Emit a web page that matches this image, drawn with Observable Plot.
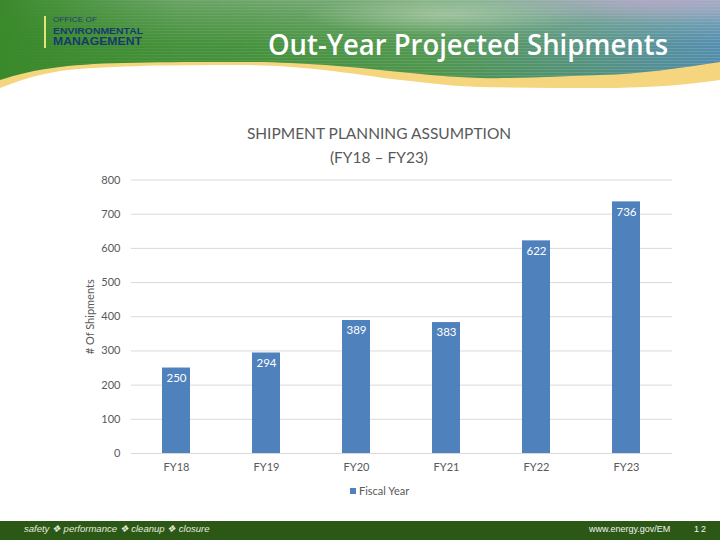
<!DOCTYPE html>
<html>
<head>
<meta charset="utf-8">
<script src="https://cdn.jsdelivr.net/npm/d3@7"></script>
<script src="https://cdn.jsdelivr.net/npm/@observablehq/plot@0.6"></script>
<style>
  html, body { margin: 0; padding: 0; background: #ffffff; }
  #page { position: relative; width: 720px; height: 540px; overflow: hidden; background: #ffffff; font-family: Lato, "Open Sans", sans-serif; }
  #header { position: absolute; left: 0; top: 0; }
  #ctitle { position: absolute; left: 0; width: 758px; top: 121px; text-align: center; color: #595959; font-size: 15.5px; line-height: 24px; }
  #chart { position: absolute; left: 0; top: 170px; }
  #legend { position: absolute; left: 350px; top: 484px; color: #595959; font-size: 11px; display: flex; align-items: center; }
  #legend .sw { width: 6px; height: 6px; background: #4f81bd; margin-right: 3px; }
  #footer { position: absolute; left: 0; top: 521px; width: 720px; height: 19px; background: #2c5816; }
  #footer .l { position: absolute; left: 24px; top: 2px; color: #e6eadf; font-size: 9.5px; font-style: italic; font-family: "Liberation Sans", Arial, sans-serif; }
  #footer .r { position: absolute; left: 589px; top: 3px; color: #f2f2f2; font-size: 9px; font-family: "Liberation Sans", Arial, sans-serif; }
  #footer .n { position: absolute; left: 694px; top: 3px; color: #f2f2f2; font-size: 9px; font-family: "Liberation Sans", Arial, sans-serif; letter-spacing: 2px; }
</style>
</head>
<body>
<div id="page">
  <svg id="header" width="720" height="100" viewBox="0 0 720 100">
    <defs>
      <linearGradient id="gbase" x1="0" y1="0" x2="1" y2="0">
        <stop offset="0" stop-color="#3a8a2b"/>
        <stop offset="0.35" stop-color="#3f8e35"/>
        <stop offset="0.6" stop-color="#4a9448"/>
        <stop offset="0.82" stop-color="#4f8f80"/>
        <stop offset="1" stop-color="#4a86b0"/>
      </linearGradient>
      <linearGradient id="gtopfade" x1="0" y1="0" x2="1" y2="0">
        <stop offset="0" stop-color="#ffffff" stop-opacity="0"/>
        <stop offset="0.25" stop-color="#ffffff" stop-opacity="0.6"/>
        <stop offset="1" stop-color="#ffffff" stop-opacity="1"/>
      </linearGradient>
      <linearGradient id="gtopv" x1="0" y1="0" x2="0" y2="1">
        <stop offset="0" stop-color="#c3d2cc" stop-opacity="0.55"/>
        <stop offset="0.45" stop-color="#a9c6b4" stop-opacity="0.12"/>
        <stop offset="1" stop-color="#2f7a22" stop-opacity="0.2"/>
      </linearGradient>
      <mask id="fadeMask">
        <rect width="720" height="100" fill="url(#gtopfade)"/>
      </mask>
      <radialGradient id="gpurple" cx="0.92" cy="0" r="0.25">
        <stop offset="0" stop-color="#b8a6c8" stop-opacity="0.8"/>
        <stop offset="1" stop-color="#b8a6c8" stop-opacity="0"/>
      </radialGradient>
      <radialGradient id="ghaze" cx="0.62" cy="0.15" r="0.2">
        <stop offset="0" stop-color="#d8e4d0" stop-opacity="0.45"/>
        <stop offset="1" stop-color="#d8e4d0" stop-opacity="0"/>
      </radialGradient>
      <pattern id="lines" width="8" height="3" patternUnits="userSpaceOnUse">
        <rect width="8" height="1" fill="#ffffff" fill-opacity="0.13"/>
      </pattern>
      <clipPath id="gclip">
        <path d="M0,0 H720 V62 C680,68 640,74 600,75 C560,76 520,79 480,78 C450,77 430,75 400,72 C340,66 300,62 240,62 C160,62 100,62 60,67 C35,70 15,75 0,80 Z"/>
      </clipPath>
    </defs>
    <path d="M0,0 H720 V80 C680,86 640,88 600,88 C560,88 520,88 480,87 C450,86 430,83 400,80 C340,72 300,65 240,65 C160,65 100,66 60,71 C35,75 15,82 0,88 Z" fill="#f5d67e"/>
    <g clip-path="url(#gclip)">
      <rect width="720" height="100" fill="url(#gbase)"/>
      <g mask="url(#fadeMask)">
        <rect width="720" height="100" fill="url(#gtopv)"/>
        <rect width="720" height="100" fill="url(#lines)"/>
      </g>
      <rect width="720" height="100" fill="url(#ghaze)"/>
      <rect width="720" height="100" fill="url(#gpurple)"/>
    </g>
    <rect x="44" y="16" width="2" height="32" fill="#e8e27a"/>
    <text x="53" y="22" font-family="Liberation Sans, Arial, sans-serif" font-size="7.5" fill="#1d3f6e" textLength="44" lengthAdjust="spacingAndGlyphs">OFFICE OF</text>
    <text x="53" y="33.5" font-family="Liberation Sans, Arial, sans-serif" font-weight="bold" font-size="9.5" fill="#173a6c" textLength="90" lengthAdjust="spacingAndGlyphs">ENVIRONMENTAL</text>
    <text x="53" y="45" font-family="Liberation Sans, Arial, sans-serif" font-weight="bold" font-size="11" fill="#173a6c" textLength="89" lengthAdjust="spacingAndGlyphs">MANAGEMENT</text>
    <text x="268" y="55" font-family="Open Sans, sans-serif" font-weight="600" font-size="28" fill="#ffffff" textLength="400" lengthAdjust="spacingAndGlyphs">Out-Year Projected Shipments</text>
  </svg>

  <div id="ctitle">SHIPMENT PLANNING ASSUMPTION<br>(FY18 – FY23)</div>
  <div id="chart"></div>
  <div id="legend"><span class="sw"></span><span>Fiscal Year</span></div>
  <div id="footer">
    <span class="l">safety ❖ performance ❖ cleanup ❖ closure</span>
    <span class="r">www.energy.gov/EM</span>
    <span class="n">12</span>
  </div>
</div>
<script>
const categories = ["FY18", "FY19", "FY20", "FY21", "FY22", "FY23"];
const shipments = [250, 294, 389, 383, 622, 736];
const yTicks = [0, 100, 200, 300, 400, 500, 600, 700, 800];
const yLabel = "# Of Shipments";

const data = categories.map((c, i) => ({cat: c, value: shipments[i]}));

const chart = Plot.plot({
  width: 720,
  height: 310,
  marginTop: 9.5,
  marginBottom: 27,
  marginLeft: 131,
  marginRight: 48,
  style: {fontFamily: "Lato, 'Open Sans', sans-serif", fontSize: "11px", color: "#595959", background: "transparent", overflow: "visible"},
  x: {domain: categories, paddingInner: 0.686, paddingOuter: 0.343, label: null},
  y: {domain: [0, 800], label: null},
  marks: [
    Plot.ruleY(yTicks, {stroke: "#d9d9d9", strokeWidth: 1}),
    Plot.barY(data, {x: "cat", y: "value", fill: "#4f81bd"}),
    Plot.text(data, {x: "cat", y: "value", text: d => String(d.value), dy: 10, fill: "#ffffff", fontSize: 11.5}),
    Plot.axisX({tickSize: 0, tickPadding: 10, label: null, fill: "#595959"}),
    Plot.axisY(yTicks, {tickSize: 0, tickPadding: 11, label: yLabel, labelAnchor: "center", labelArrow: "none", labelOffset: 45, fill: "#595959"})
  ]
});
document.getElementById("chart").appendChild(chart);
</script>
</body>
</html>
